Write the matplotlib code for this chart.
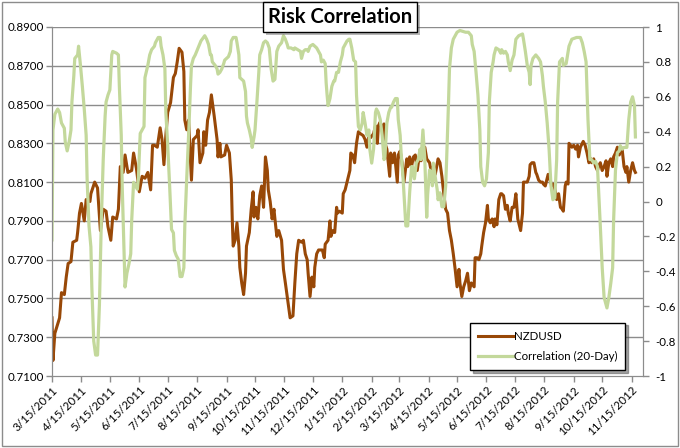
import matplotlib
matplotlib.use('agg')
import matplotlib.pyplot as plt
import matplotlib.dates as mdates
import matplotlib.patheffects as pe
from matplotlib.patches import Rectangle
import numpy as np
import pandas as pd

plt.rcParams['font.family'] = ['Lato', 'DejaVu Sans']

start = pd.Timestamp('2011-03-15')

# NZDUSD close, days counted from 3/15/2011
nz_day = [0, 1, 3, 8, 10, 13, 15, 17, 20, 22, 26, 27, 29, 31, 34, 36, 40, 41, 45, 48,
          51, 54, 57, 59, 62, 64, 68, 70, 72, 75, 77, 80, 84, 86, 89, 92, 95, 98, 101, 104,
          106, 108, 111, 114, 116, 118, 120, 122, 125, 128, 130, 132, 134, 137, 139, 140, 142, 144, 146, 147,
          149, 153, 154, 156, 159, 160, 162, 164, 166, 168, 171, 174, 175, 177, 178, 182, 184, 187, 189, 190,
          191, 193, 195, 197, 198, 200, 202, 204, 205, 208, 210, 212, 213, 215, 217, 219, 221, 223, 225, 227,
          228, 230, 232, 234, 235, 237, 239, 242, 244, 246, 249, 251, 254, 256, 258, 260, 263, 265, 267, 269,
          270, 272, 274, 276, 277, 279, 281, 285, 287, 288, 291, 293, 294, 296, 298, 300, 301, 303, 306, 307,
          309, 311, 314, 315, 317, 319, 321, 323, 325, 328, 330, 332, 334, 336, 339, 341, 343, 344, 346, 348,
          350, 351, 353, 355, 356, 357, 359, 361, 364, 365, 367, 369, 371, 374, 375, 377, 379, 381, 383, 385,
          387, 389, 392, 393, 395, 398, 400, 402, 404, 407, 409, 411, 413, 415, 417, 419, 421, 423, 425, 427,
          429, 430, 432, 434, 436, 438, 440, 442, 445, 446, 448, 450, 452, 453, 455, 457, 459, 460, 462, 464,
          466, 467, 469, 471, 473, 474, 476, 478, 480, 481, 483, 485, 487, 489, 491, 494, 496, 497, 499, 501,
          503, 504, 506, 508, 510, 511, 513, 515, 517, 518, 520, 523, 525, 527, 529, 531, 532, 534, 536, 538,
          539, 541, 542, 544, 545, 548, 550, 552, 554, 555, 557, 560, 562, 564, 566, 568, 569, 571, 573, 575,
          576, 578, 580, 582, 584, 585, 587, 589, 591, 592, 594, 596, 598, 599, 601, 603, 605, 606, 608, 610,
          612, 614, 615]
nz_val = [0.740, 0.718, 0.732, 0.740, 0.753, 0.752, 0.761, 0.768, 0.769, 0.779, 0.780, 0.784, 0.794, 0.799, 0.790, 0.801, 0.800, 0.804, 0.810, 0.807,
          0.785, 0.796, 0.795, 0.787, 0.780, 0.792, 0.791, 0.796, 0.818, 0.815, 0.824, 0.815, 0.816, 0.825, 0.817, 0.805, 0.813, 0.812, 0.815, 0.806,
          0.829, 0.829, 0.828, 0.838, 0.832, 0.819, 0.834, 0.846, 0.851, 0.864, 0.866, 0.872, 0.879, 0.877, 0.867, 0.842, 0.837, 0.842, 0.822, 0.811,
          0.832, 0.834, 0.837, 0.820, 0.825, 0.836, 0.829, 0.842, 0.846, 0.855, 0.844, 0.832, 0.823, 0.830, 0.823, 0.824, 0.829, 0.825, 0.811, 0.791,
          0.777, 0.780, 0.789, 0.777, 0.766, 0.758, 0.752, 0.763, 0.777, 0.784, 0.796, 0.805, 0.792, 0.797, 0.791, 0.803, 0.808, 0.797, 0.823, 0.816,
          0.806, 0.800, 0.791, 0.796, 0.791, 0.782, 0.785, 0.780, 0.765, 0.758, 0.747, 0.740, 0.741, 0.758, 0.773, 0.780, 0.779, 0.780, 0.773, 0.770,
          0.763, 0.751, 0.761, 0.756, 0.766, 0.773, 0.775, 0.775, 0.771, 0.778, 0.780, 0.790, 0.782, 0.785, 0.784, 0.797, 0.794, 0.795, 0.794, 0.804,
          0.806, 0.810, 0.816, 0.825, 0.824, 0.820, 0.830, 0.836, 0.835, 0.834, 0.832, 0.828, 0.834, 0.833, 0.835, 0.839, 0.830, 0.839, 0.841, 0.837,
          0.840, 0.830, 0.827, 0.818, 0.813, 0.825, 0.820, 0.825, 0.810, 0.824, 0.826, 0.820, 0.810, 0.822, 0.818, 0.823, 0.818, 0.823, 0.824, 0.816,
          0.823, 0.821, 0.828, 0.828, 0.822, 0.820, 0.815, 0.818, 0.814, 0.822, 0.820, 0.813, 0.804, 0.796, 0.794, 0.785, 0.780, 0.773, 0.765, 0.756,
          0.765, 0.758, 0.751, 0.756, 0.759, 0.763, 0.754, 0.758, 0.756, 0.771, 0.771, 0.770, 0.773, 0.777, 0.784, 0.789, 0.798, 0.791, 0.789, 0.791,
          0.787, 0.791, 0.788, 0.801, 0.804, 0.804, 0.803, 0.796, 0.798, 0.794, 0.790, 0.797, 0.797, 0.804, 0.791, 0.785, 0.794, 0.810, 0.810, 0.810,
          0.813, 0.819, 0.820, 0.820, 0.815, 0.814, 0.811, 0.810, 0.810, 0.809, 0.808, 0.814, 0.811, 0.808, 0.809, 0.804, 0.801, 0.804, 0.797, 0.796,
          0.795, 0.808, 0.810, 0.809, 0.830, 0.828, 0.829, 0.827, 0.829, 0.823, 0.828, 0.831, 0.829, 0.825, 0.820, 0.822, 0.820, 0.822, 0.818, 0.816,
          0.818, 0.820, 0.816, 0.818, 0.821, 0.813, 0.820, 0.822, 0.818, 0.823, 0.825, 0.828, 0.824, 0.828, 0.827, 0.818, 0.815, 0.818, 0.810, 0.816,
          0.820, 0.816, 0.815]

# 20-day rolling correlation, days counted from 3/15/2011
corr_day = [0, 1, 3, 6, 8, 10, 13, 14, 16, 18, 20, 21, 23, 24, 27, 28, 30, 32, 34, 36,
            37, 39, 41, 42, 44, 46, 48, 50, 52, 54, 56, 57, 59, 61, 63, 64, 68, 70, 71, 73,
            74, 76, 77, 79, 81, 83, 84, 86, 88, 90, 91, 93, 95, 97, 98, 101, 103, 105, 108, 109,
            112, 114, 115, 117, 119, 120, 122, 124, 126, 128, 129, 131, 133, 135, 137, 139, 140, 142, 144, 146,
            147, 149, 151, 154, 157, 161, 163, 165, 167, 168, 169, 172, 174, 175, 177, 179, 181, 182, 184, 186,
            188, 189, 191, 194, 195, 197, 198, 200, 202, 204, 205, 206, 208, 210, 211, 213, 214, 216, 218, 219,
            221, 223, 225, 227, 229, 231, 233, 235, 236, 237, 239, 242, 244, 246, 248, 249, 252, 255, 256, 259,
            262, 263, 265, 267, 269, 270, 272, 275, 277, 279, 281, 283, 284, 286, 288, 289, 290, 291, 293, 295,
            297, 298, 300, 302, 304, 306, 307, 309, 311, 313, 314, 316, 318, 320, 321, 323, 325, 327, 328, 330,
            332, 334, 335, 337, 339, 341, 342, 344, 346, 348, 350, 351, 353, 355, 357, 358, 360, 362, 364, 365,
            367, 368, 370, 372, 373, 375, 377, 379, 380, 382, 384, 386, 388, 389, 391, 393, 395, 396, 398, 400,
            401, 402, 404, 406, 407, 409, 411, 413, 415, 416, 418, 419, 421, 423, 427, 430, 436, 439, 442, 443,
            445, 447, 449, 451, 452, 454, 456, 458, 460, 461, 463, 465, 466, 468, 471, 473, 474, 476, 478, 480,
            481, 483, 485, 487, 489, 492, 496, 497, 499, 501, 503, 504, 505, 507, 510, 513, 515, 517, 518, 520,
            522, 524, 526, 528, 530, 532, 533, 535, 538, 539, 542, 545, 548, 553, 557, 559, 561, 563, 565, 567,
            569, 571, 573, 575, 576, 578, 580, 582, 584, 585, 587, 589, 591, 592, 594, 596, 598, 599, 601, 603,
            605, 606, 608, 610, 612, 614, 615]
corr_val = [-0.22, 0.41, 0.50, 0.53, 0.51, 0.45, 0.42, 0.34, 0.29, 0.34, 0.41, 0.57, 0.72, 0.82, 0.84, 0.89, 0.78, 0.66, 0.53, 0.38,
            0.13, -0.14, -0.26, -0.49, -0.80, -0.88, -0.88, -0.59, -0.11, 0.24, 0.49, 0.57, 0.61, 0.64, 0.84, 0.86, 0.85, 0.84, 0.66, 0.38,
            0.09, -0.30, -0.49, -0.41, -0.36, -0.30, -0.11, 0.11, 0.09, 0.07, 0.13, 0.39, 0.41, 0.43, 0.71, 0.78, 0.84, 0.87, 0.89, 0.91,
            0.94, 0.94, 0.89, 0.84, 0.76, 0.51, 0.32, 0.09, -0.16, -0.18, -0.28, -0.31, -0.33, -0.43, -0.43, -0.38, -0.14, 0.13, 0.38, 0.66,
            0.78, 0.82, 0.84, 0.88, 0.92, 0.95, 0.93, 0.90, 0.84, 0.84, 0.80, 0.78, 0.76, 0.73, 0.74, 0.76, 0.79, 0.81, 0.82, 0.83,
            0.86, 0.92, 0.94, 0.94, 0.91, 0.84, 0.71, 0.70, 0.69, 0.63, 0.49, 0.45, 0.41, 0.36, 0.31, 0.37, 0.41, 0.57, 0.74, 0.84,
            0.87, 0.91, 0.92, 0.91, 0.88, 0.76, 0.69, 0.70, 0.78, 0.86, 0.89, 0.91, 0.95, 0.93, 0.90, 0.88, 0.88, 0.87, 0.88, 0.87,
            0.86, 0.82, 0.86, 0.87, 0.87, 0.86, 0.89, 0.90, 0.89, 0.88, 0.86, 0.84, 0.80, 0.81, 0.79, 0.68, 0.61, 0.55, 0.59, 0.66,
            0.69, 0.69, 0.74, 0.74, 0.80, 0.84, 0.88, 0.90, 0.92, 0.93, 0.93, 0.88, 0.81, 0.80, 0.61, 0.43, 0.41, 0.45, 0.51, 0.45,
            0.38, 0.41, 0.30, 0.22, 0.30, 0.51, 0.53, 0.51, 0.47, 0.38, 0.24, 0.26, 0.45, 0.51, 0.54, 0.54, 0.57, 0.59, 0.59, 0.47,
            0.38, 0.28, 0.14, -0.05, -0.14, -0.14, 0.05, 0.20, 0.20, 0.13, 0.22, 0.24, 0.30, 0.24, 0.41, 0.24, -0.09, 0.04, 0.18, 0.16,
            0.09, 0.22, 0.14, 0.07, 0.01, 0.05, -0.03, -0.03, 0.09, 0.24, 0.57, 0.76, 0.88, 0.93, 0.97, 0.98, 0.97, 0.97, 0.95, 0.90,
            0.86, 0.74, 0.61, 0.41, 0.20, 0.11, 0.09, 0.13, 0.28, 0.57, 0.74, 0.80, 0.84, 0.88, 0.87, 0.85, 0.87, 0.85, 0.86, 0.84,
            0.80, 0.75, 0.81, 0.84, 0.93, 0.95, 0.96, 0.93, 0.86, 0.78, 0.74, 0.67, 0.78, 0.82, 0.84, 0.82, 0.80, 0.72, 0.66, 0.57,
            0.45, 0.30, 0.09, 0.01, 0.02, 0.24, 0.57, 0.80, 0.82, 0.78, 0.79, 0.89, 0.93, 0.94, 0.94, 0.91, 0.86, 0.80, 0.47, 0.24,
            0.24, 0.22, 0.23, 0.20, 0.09, -0.14, -0.38, -0.55, -0.59, -0.61, -0.55, -0.47, -0.38, -0.11, 0.18, 0.28, 0.29, 0.32, 0.30, 0.31,
            0.31, 0.31, 0.47, 0.57, 0.60, 0.55, 0.37]

left_ticks = [0.71, 0.73, 0.75, 0.77, 0.79, 0.81, 0.83, 0.85, 0.87, 0.89]
right_ticks = [-1, -0.8, -0.6, -0.4, -0.2, 0, 0.2, 0.4, 0.6, 0.8, 1]
right_labels = ['-1', '-0.8', '-0.6', '-0.4', '-0.2', '0', '0.2', '0.4', '0.6', '0.8', '1']

nz_dates = start + pd.to_timedelta(nz_day, unit='D')
corr_dates = start + pd.to_timedelta(corr_day, unit='D')

BROWN = '#984807'
GREEN = '#c3d89b'
GRID = '#8c8c8c'

fig = plt.figure(figsize=(6.8, 4.48), dpi=100)
ax = fig.add_axes([52 / 680, 1 - 376 / 448, 591 / 680, 349 / 448])
ax2 = ax.twinx()

for y in left_ticks[1:]:
    ax.axhline(y, color=GRID, lw=1, zorder=0)

l1, = ax.plot(nz_dates, nz_val, color=BROWN, lw=2.2, label='NZDUSD', solid_joinstyle='round')
l2, = ax2.plot(corr_dates, corr_val, color=GREEN, lw=2.3, label='Correlation (20-Day)', solid_joinstyle='round')

ax.set_ylim(0.71, 0.89)
ax.set_yticks(left_ticks)
ax.set_yticklabels(['%.4f' % v for v in left_ticks])
ax2.set_ylim(-1, 1)
ax2.set_yticks(right_ticks)
ax2.set_yticklabels(right_labels)

ax.set_xlim(start, start + pd.Timedelta(days=623))
ax.xaxis.set_major_locator(mdates.MonthLocator(bymonthday=15))
ax.xaxis.set_major_formatter(matplotlib.ticker.FuncFormatter(
    lambda x, pos: '%d/%d/%d' % (mdates.num2date(x).month, mdates.num2date(x).day, mdates.num2date(x).year)))
for lab in ax.get_xticklabels():
    lab.set_rotation(45)
    lab.set_ha('right')
    lab.set_rotation_mode('anchor')

for a in (ax, ax2):
    a.spines['top'].set_visible(False)
    for side in ('left', 'right', 'bottom'):
        a.spines[side].set_color(GRID)
    a.tick_params(colors=GRID, labelcolor='black', labelsize=8.3, length=4, width=1)
ax.tick_params(axis='y', pad=2)
ax2.tick_params(axis='y', pad=5)
ax.tick_params(axis='x', pad=2)

leg = ax2.legend(handles=[l1, l2], loc='lower left', bbox_to_anchor=(470 / 680, 1 - 370 / 448),
                 bbox_transform=fig.transFigure, borderaxespad=0, frameon=True, fancybox=False, shadow=True,
                 fontsize=8.3, handlelength=3.0, handletextpad=0.1, borderpad=0.7, labelspacing=0.8)
leg.get_frame().set_edgecolor('black')
leg.get_frame().set_linewidth(1)

title = fig.text(340 / 680, 1 - 17 / 448, 'Risk Correlation', ha='center', va='center',
                 fontsize=14.5, fontweight='bold',
                 bbox=dict(boxstyle='square,pad=0.25', facecolor='white', edgecolor='black', lw=1))
title.get_bbox_patch().set_path_effects([pe.withSimplePatchShadow(offset=(2, -2), alpha=0.4)])

fig.patches.append(Rectangle((2 / 680, 2 / 448), 676 / 680, 444 / 448, transform=fig.transFigure,
                             fill=False, edgecolor=GRID, lw=1))

fig.savefig('out.png', dpi=100)
